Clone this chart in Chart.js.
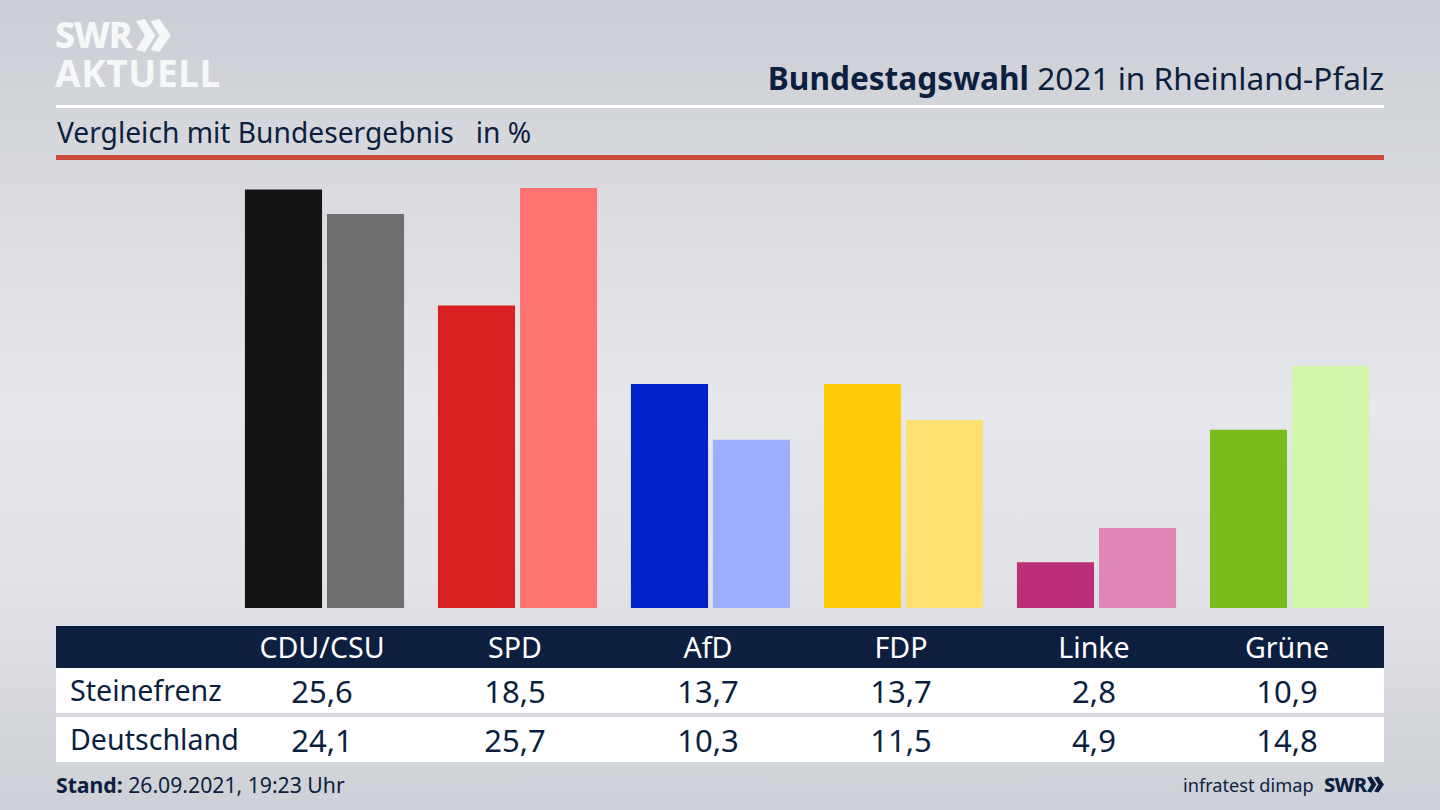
<!DOCTYPE html>
<html>
<head>
<meta charset="utf-8">
<title>Bundestagswahl 2021 in Rheinland-Pfalz</title>
<script src="https://cdn.jsdelivr.net/npm/chart.js@4"></script>
<style>
  html, body { margin: 0; padding: 0; }
  body {
    width: 1440px; height: 810px; overflow: hidden; position: relative;
    font-family: "Noto Sans", sans-serif; color: #0c1f3f;
    background: linear-gradient(180deg, #cbced5 0%, #d8dade 22%, #e7e8eb 50%, #e2e3e6 72%, #cdd0d6 100%);
  }
  .abs { position: absolute; white-space: nowrap; }
  .center { transform: translateX(-50%); }
  #chartBox { position: absolute; left: 228px; top: 183px; width: 1158px; height: 425px; }
  .band { position: absolute; left: 56px; width: 1328px; }
</style>
</head>
<body>
  <div class="abs" style="left:55px;top:9px;font:800 36px/52px 'Noto Sans',sans-serif;color:#f6f7f8;letter-spacing:-1.2px;">SWR</div>
  <svg class="abs" style="left:136px;top:19px" width="35" height="33" viewBox="0 0 36 34">
    <path d="M0 2 L9 0 L20 17 L9 34 L0 32 L9 17 Z M15 2 L24 0 L36 17 L24 34 L15 32 L24 17 Z" fill="#f6f7f8"/>
  </svg>
  <div class="abs" style="left:55px;top:47px;font:700 37px/52px 'Noto Sans',sans-serif;color:#f6f7f8;letter-spacing:0.6px;">AKTUELL</div>

  <div class="abs" id="title" style="right:56px;top:56px;font-size:31.6px;line-height:44px;"><b>Bundestagswahl</b> 2021 in Rheinland-Pfalz</div>
  <div class="band" style="top:105px;height:3px;background:#fff;"></div>
  <div class="abs" style="left:57px;top:112px;font-size:28.2px;line-height:40px;white-space:pre;">Vergleich mit Bundesergebnis   in %</div>
  <div class="band" style="top:155px;height:5px;background:#cb4b3a;"></div>

  <div id="chartBox"><canvas id="chart"></canvas></div>

  <div class="band" style="top:626px;height:42px;background:#0c1f3f;"></div>
  <div class="band" style="top:668px;height:45px;background:#fff;"></div>
  <div class="band" style="top:717px;height:45px;background:#fff;"></div>
  <div id="table"></div>

  <div class="abs" style="left:56px;top:770px;font-size:21.2px;line-height:30px;"><b>Stand:</b> 26.09.2021, 19:23 Uhr</div>
  <div class="abs" style="left:1183px;top:770px;font-size:18.2px;line-height:30px;">infratest dimap</div>
  <div class="abs" style="left:1324px;top:770px;font-size:20px;line-height:30px;font-weight:800;letter-spacing:-0.8px;">SWR</div>
  <svg class="abs" style="left:1367px;top:776px" width="17" height="17" viewBox="0 0 36 34">
    <path d="M0 2 L9 0 L20 17 L9 34 L0 32 L9 17 Z M15 2 L24 0 L36 17 L24 34 L15 32 L24 17 Z" fill="#0c1f3f"/>
  </svg>

<script>
const parties = ['CDU/CSU', 'SPD', 'AfD', 'FDP', 'Linke', 'Grüne'];
const steinefrenz = [25.6, 18.5, 13.7, 13.7, 2.8, 10.9];
const deutschland = [24.1, 25.7, 10.3, 11.5, 4.9, 14.8];
const colorsLocal = ['#141414', '#d91f1f', '#0022c8', '#ffcc0a', '#bb2e78', '#78bc1c'];
const colorsFederal = ['#706f6d', '#ff7370', '#9eaeff', '#ffe070', '#df86b6', '#d3f7aa'];

new Chart(document.getElementById('chart'), {
  type: 'bar',
  data: {
    labels: parties,
    datasets: [
      { label: 'Steinefrenz', data: steinefrenz, backgroundColor: colorsLocal },
      { label: 'Deutschland', data: deutschland, backgroundColor: colorsFederal },
    ],
  },
  options: {
    animation: false,
    responsive: true,
    maintainAspectRatio: false,
    categoryPercentage: 0.85,
    barPercentage: 0.94,
    layout: { padding: 0 },
    plugins: { legend: { display: false }, tooltip: { enabled: false } },
    scales: {
      x: { display: false },
      y: { display: false, min: 0, max: 26 },
    },
  },
});

// Table under the bars
const table = document.getElementById('table');
const colCenter = i => 322 + i * 193;

function addCell(text, left, top, color, centered, size) {
  const cell = document.createElement('div');
  cell.className = centered ? 'abs center' : 'abs';
  cell.textContent = text;
  cell.style.left = left + 'px';
  cell.style.top = top + 'px';
  cell.style.color = color;
  cell.style.fontSize = size + 'px';
  cell.style.lineHeight = '40px';
  table.appendChild(cell);
}

const formatValue = v => v.toFixed(1).replace('.', ',');

parties.forEach((p, i) => addCell(p, colCenter(i), 627, '#fff', true, 28.6));
addCell('Steinefrenz', 70, 670, '#0c1f3f', false, 28.6);
addCell('Deutschland', 70, 719, '#0c1f3f', false, 28.6);
steinefrenz.forEach((v, i) => addCell(formatValue(v), colCenter(i), 671, '#0c1f3f', true, 31));
deutschland.forEach((v, i) => addCell(formatValue(v), colCenter(i), 720, '#0c1f3f', true, 31));
</script>
</body>
</html>
